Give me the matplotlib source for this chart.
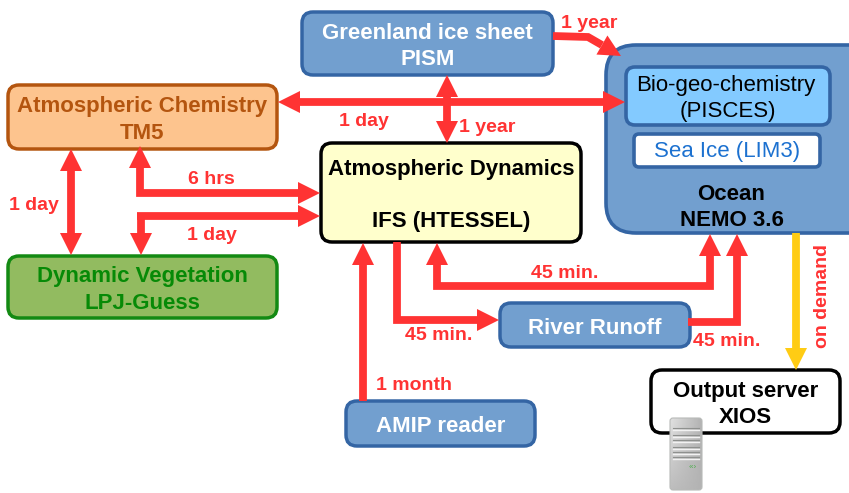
from matplotlib import pyplot as plt
from matplotlib.patches import FancyBboxPatch, Polygon
import numpy as np

RED = "#ff3333"
YELLOW = "#ffcc14"
BLUE = "#729fcf"
BLUE_EDGE = "#3465a4"

# name lines, extents (x0, y0, x1, y1 in image pixels), colours
box_labels = [
    "Greenland ice sheet\nPISM",
    "Atmospheric Chemistry\nTM5",
    "Dynamic Vegetation\nLPJ-Guess",
    "Atmospheric Dynamics\n\nIFS (HTESSEL)",
    "River Runoff",
    "AMIP reader",
    "Output server\nXIOS",
]
box_extents = [
    (302, 12, 553, 75),
    (8, 85, 277, 149),
    (8, 256, 277, 318),
    (321, 143, 581, 242),
    (500, 303, 690, 347),
    (346, 401, 535, 446),
    (651, 370, 840, 433),
]
box_fills = [BLUE, "#fdc48e", "#92bb60", "#ffffcc", BLUE, BLUE, "white"]
box_edges = [BLUE_EDGE, "#b4550f", "#138a13", "black", BLUE_EDGE, BLUE_EDGE, "black"]
box_text_colors = ["white", "#b4550f", "#078a07", "black", "white", "white", "black"]

# routes as (x, y) vertices, with arrowheads at the start and/or the end
routes = [
    ([(553, 36), (588, 37), (621, 56)], False, True, RED),
    ([(278, 102), (625, 102)], True, True, RED),
    ([(447, 75), (447, 143)], True, True, RED),
    ([(71, 149), (71, 255)], True, True, RED),
    ([(140, 146), (140, 193), (320, 193)], True, True, RED),
    ([(137, 216), (320, 216)], False, True, RED),
    ([(141, 216), (141, 255)], False, True, RED),
    ([(363, 401), (363, 243)], False, True, RED),
    ([(397, 242), (397, 320), (499, 320)], False, True, RED),
    ([(437, 243), (437, 286), (710, 286), (710, 234)], True, True, RED),
    ([(688, 322), (737, 322), (737, 234)], False, True, RED),
    ([(796, 233), (796, 370)], False, True, YELLOW),
]

flow_labels = ["1 year", "1 day", "1 year", "6 hrs", "1 day", "1 day",
               "45 min.", "45 min.", "45 min.", "1 month"]
flow_x = [589, 364, 487, 211, 212, 34, 565, 439, 727, 414]
flow_y = [23, 122, 127, 180, 236, 206, 274, 336, 341, 386]

server_stripes = [428, 435, 440, 447, 452, 457]


def add_box(ax, x0, y0, x1, y1, fill, edge, lw=2.5, radius=11, zorder=2):
    patch = FancyBboxPatch(
        (x0, y0),
        x1 - x0,
        y1 - y0,
        boxstyle=f"round,pad=0,rounding_size={radius}",
        facecolor=fill,
        edgecolor=edge,
        linewidth=lw,
        zorder=zorder,
    )
    ax.add_patch(patch)
    return patch


def add_head(ax, tip, tail, color, length=22, width=22):
    tip = np.array(tip, dtype=float)
    direction = tip - np.array(tail, dtype=float)
    direction /= np.linalg.norm(direction)
    normal = np.array([-direction[1], direction[0]])
    base = tip - direction * length
    ax.add_patch(
        Polygon(
            [tip, base + normal * width / 2, base - normal * width / 2],
            facecolor=color,
            edgecolor="none",
            zorder=4,
        )
    )
    return base


def add_route(ax, points, start_head, end_head, color):
    pts = [np.array(p, dtype=float) for p in points]
    if start_head:
        pts[0] = add_head(ax, points[0], points[1], color)
    if end_head:
        pts[-1] = add_head(ax, points[-1], points[-2], color)
    xs = [p[0] for p in pts]
    ys = [p[1] for p in pts]
    ax.plot(xs, ys, color=color, lw=5.6, solid_capstyle="butt",
            solid_joinstyle="miter", zorder=3)


def add_server(ax):
    # little tower icon on top of the output server box
    across = np.linspace(0.88, 0.70, 40)
    down = np.linspace(0.0, 0.14, 60)[:, None]
    shade = across[None, :] - down + np.linspace(0, 0.14, 40)[None, :] * np.linspace(0, 1, 60)[:, None]
    outline = add_box(ax, 670, 418, 702, 490, "none", "#b8bab8", lw=0.8, radius=3, zorder=6)
    im = ax.imshow(shade, extent=(670, 702, 490, 418), cmap="gray", vmin=0, vmax=1,
                   aspect="auto", zorder=5)
    im.set_clip_path(outline)
    for y in server_stripes:
        ax.plot([673, 699], [y, y], color="#8e908e", lw=0.8, zorder=6)
        ax.plot([673, 699], [y + 2, y + 2], color="#f2f2f2", lw=1.0, zorder=6)
    ax.text(693, 467, "‹‹›", color="#4fae4f", fontsize=6, ha="center", va="center", zorder=7)


plt.rcParams["font.family"] = ["Liberation Sans", "DejaVu Sans"]

fig = plt.figure(figsize=(8.49, 4.93), dpi=100)
ax = fig.add_axes([0, 0, 1, 1])

# ocean group
add_box(ax, 606, 45, 900, 233, BLUE, BLUE_EDGE, lw=2.6, radius=30)
add_box(ax, 626, 67, 830, 125, "#83caff", BLUE_EDGE, lw=2.6, radius=9, zorder=3)
add_box(ax, 634, 134, 820, 167, "white", BLUE_EDGE, lw=2.6, radius=5, zorder=3)
ax.text(726, 85, "Bio-geo-chemistry", fontsize=16, ha="center", va="center", zorder=5)
ax.text(728, 111, "(PISCES)", fontsize=16, ha="center", va="center", zorder=5)
ax.text(727, 151, "Sea Ice (LIM3)", color="#1c71d0", fontsize=16, ha="center", va="center", zorder=5)
ax.text(731, 195, "Ocean", fontsize=16, fontweight="bold", ha="center", va="center", zorder=5)
ax.text(732, 221, "NEMO 3.6", fontsize=16, fontweight="bold", ha="center", va="center", zorder=5)

for label, ext, fill, edge, tc in zip(box_labels, box_extents, box_fills, box_edges, box_text_colors):
    x0, y0, x1, y1 = ext
    add_box(ax, x0, y0, x1, y1, fill, edge)
    ax.text((x0 + x1) / 2, (y0 + y1) / 2 + 3, label, color=tc, fontsize=16,
            fontweight="bold", ha="center", va="center", linespacing=1.32, zorder=5)

for points, start_head, end_head, color in routes:
    add_route(ax, points, start_head, end_head, color)

for label, x, y in zip(flow_labels, flow_x, flow_y):
    ax.text(x, y, label, color=RED, fontsize=14, fontweight="bold",
            ha="center", va="center", zorder=5)
ax.text(823, 296, "on demand", color=RED, fontsize=14, fontweight="bold",
        rotation=90, ha="center", va="center", zorder=5)

add_server(ax)

ax.set_xlim(0, 849)
ax.set_ylim(493, 0)
ax.axis("off")

fig.savefig("out.png", dpi=100)
plt.close(fig)
